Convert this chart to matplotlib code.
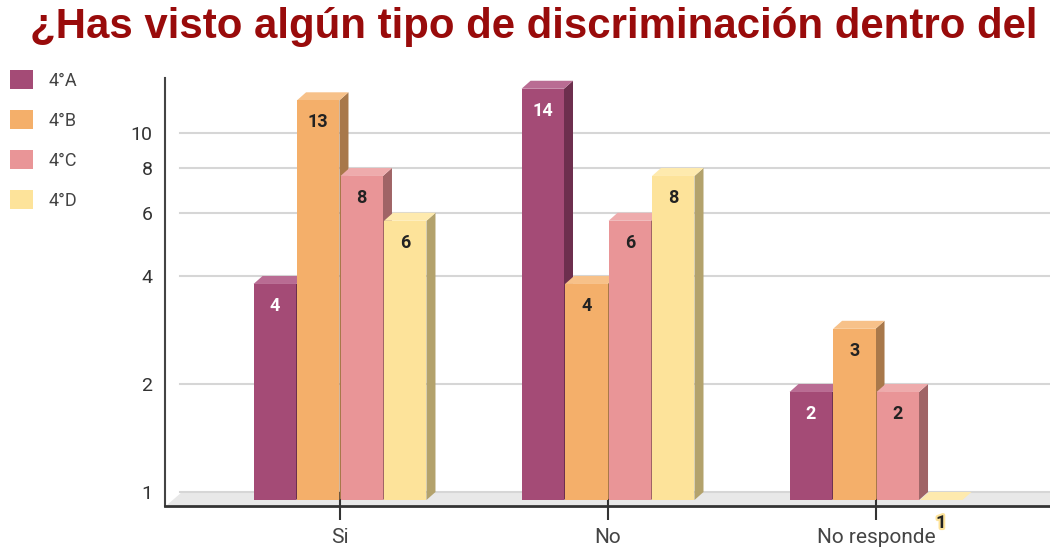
import numpy as np
import matplotlib
matplotlib.use('Agg')
import matplotlib.pyplot as plt
import matplotlib.transforms as mtransforms
import matplotlib.patheffects as pe
from matplotlib.patches import Polygon, Patch
from matplotlib.ticker import NullLocator

# data
categories = ['Si', 'No', 'No responde']
series = ['4°A', '4°B', '4°C', '4°D']
values_a = [4, 14, 2]
values_b = [13, 4, 3]
values_c = [8, 6, 2]
values_d = [6, 8, 1]
yticks = [1, 2, 4, 6, 8, 10]
title = '¿Has visto algún tipo de discriminación dentro del'

all_values = [values_a, values_b, values_c, values_d]
front_cols = ['#a44b76', '#f4af6a', '#e99597', '#fde39a']
side_cols = ['#6d2f4e', '#a8784a', '#a06466', '#b3a26c']
top_cols = ['#b96c93', '#f7c189', '#eeabac', '#feeaae']
text_cols = ['white', '#222222', '#222222', '#222222']

plt.rcParams['font.family'] = ['Roboto', 'DejaVu Sans']

W, H = 1050, 548
fig = plt.figure(figsize=(W / 100, H / 100), dpi=100)
ax = fig.add_axes([165 / W, (H - 505.5) / H, (W - 165) / W, (505.5 - 78) / H])
ax.set_yscale('log')
ax.set_xlim(-0.653, 2.649)
ax.set_ylim(0.917, 14.25)
ax.set_autoscale_on(False)

DX, DY = 9, 8  # depth in pixels
front_off = mtransforms.ScaledTranslation(0, -DY / 100, fig.dpi_scale_trans)

# floor
x = np.arange(len(categories))
disp = ax.transData
y1 = disp.transform((0, 1))[1]
xl = ax.transAxes.transform((0, 0))[0]
xr = ax.transAxes.transform((1, 0))[0]
floor = Polygon([(xl + 2, y1 - 13), (xl + 17, y1), (xr, y1), (xr, y1 - 13)],
                closed=True, transform=mtransforms.IdentityTransform(),
                facecolor='#e8e8e8', edgecolor='none', zorder=1)
ax.add_patch(floor)

for t in yticks:
    ax.axhline(t, xmin=15 / 885, xmax=1, color='#d6d6d6', lw=1.5, zorder=1.2)

bw = 0.1623
gap = 0.004
for i, vals in enumerate(all_values):
    xs = x + (i - 1.5) * bw
    z = 3 + i
    ax.bar(xs, [v - 1 for v in vals], bottom=1, width=bw - gap, color=front_cols[i],
           transform=ax.transData + front_off, zorder=z + 0.2)
    for xc, v in zip(xs, vals):
        x0 = xc - (bw - gap) / 2
        x1 = xc + (bw - gap) / 2
        (px0, pt), = disp.transform([(x0, v)])
        (px1, pb), = disp.transform([(x1, 1)])
        pt -= DY
        pb -= DY
        side = Polygon([(px1, pb), (px1, pt), (px1 + DX, pt + DY), (px1 + DX, pb + DY)],
                       closed=True, transform=mtransforms.IdentityTransform(),
                       facecolor=side_cols[i], edgecolor='none', zorder=z)
        top = Polygon([(px0, pt), (px1, pt), (px1 + DX, pt + DY), (px0 + DX, pt + DY)],
                      closed=True, transform=mtransforms.IdentityTransform(),
                      facecolor=top_cols[i], edgecolor='none', zorder=z + 0.1)
        ax.add_patch(side)
        ax.add_patch(top)
        if v > 1:
            ax.annotate(str(v), xy=(xc, v), xytext=(0, -DY - 22), textcoords='offset pixels',
                        ha='center', va='center', fontsize=13, fontweight='bold',
                        color=text_cols[i], zorder=10)
        else:
            ax.annotate(str(v), xy=(xc, v), xytext=(0, -31), textcoords='offset pixels',
                        ha='center', va='center', fontsize=13, fontweight='bold',
                        color='#222222', zorder=10, annotation_clip=False,
                        path_effects=[pe.withStroke(linewidth=3, foreground='#fde39a')])

ax.set_xticks(x, categories)
ax.set_yticks(yticks, [str(t) for t in yticks])
ax.yaxis.set_minor_locator(NullLocator())
ax.tick_params(axis='x', direction='inout', length=20, width=1.5, color='#333333',
               labelsize=15, labelcolor='#444444', pad=6)
ax.tick_params(axis='y', length=0, pad=9, labelsize=14, labelcolor='#333333')
for s in ['top', 'right']:
    ax.spines[s].set_visible(False)
ax.spines['left'].set_color('#444444')
ax.spines['left'].set_linewidth(1.5)
ax.spines['bottom'].set_color('#333333')
ax.spines['bottom'].set_linewidth(2)

# title: fit its width to the visible span of the original
ttl = fig.text(30 / W, 1 - 27 / H, title, ha='left', va='center', fontsize=25,
               fontweight='bold', color='#990b0b', family='Liberation Sans')
renderer = fig.canvas.get_renderer()
tw = ttl.get_window_extent(renderer).width
ttl.set_fontsize(25 * 1008 / tw)

handles = [Patch(facecolor=c, edgecolor='none') for c in front_cols]
fig.legend(handles, series, loc='upper left', bbox_to_anchor=(10 / W, 1 - 70 / H),
           frameon=False, fontsize=13, handlelength=1.28, handleheight=1.25,
           labelspacing=1.13, handletextpad=0.83, borderpad=0, borderaxespad=0,
           labelcolor='#444444')

fig.savefig('out.png', dpi=100)
